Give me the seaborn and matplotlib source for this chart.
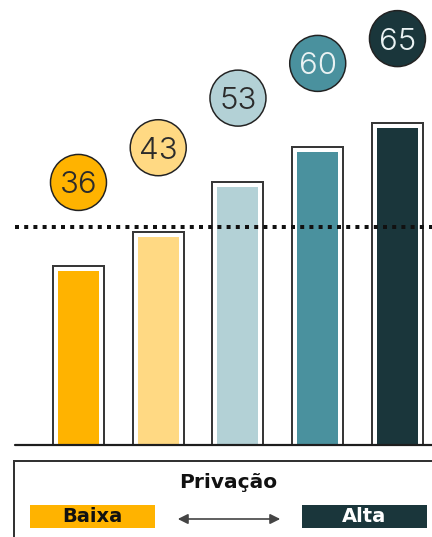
import matplotlib
matplotlib.use("Agg")
import matplotlib.pyplot as plt
import matplotlib.transforms as mtransforms
from matplotlib.patches import Rectangle, FancyArrowPatch
import seaborn as sns
import pandas as pd

# ---- data ----
categories = ["Q1", "Q2", "Q3", "Q4", "Q5"]
values = [36, 43, 53, 60, 65]
bar_colors = ["#FFB300", "#FFD983", "#B3D1D6", "#4A919E", "#1A363B"]
label_colors = ["#2b2b2b", "#2b2b2b", "#2b2b2b", "#EAF2F3", "#EAF2F3"]
reference_value = 44
legend_title = "Privação"
legend_low = "Baixa"
legend_high = "Alta"

df = pd.DataFrame({"cat": categories, "val": values})

DPI = 100
fig = plt.figure(figsize=(4.32, 5.37), dpi=DPI)
sns.set_style("white")
plt.rcParams["font.family"] = ["DejaVu Sans"]

W, H = 432, 537
base_px = 445
ax = fig.add_axes([15 / W, (H - base_px) / H, 1 - 15 / W, base_px / H])

px_per_unit = 4.96
pt = 72 / DPI  # points per pixel

# colored bars with thick white edge (creates the white gap)
sns.barplot(data=df, x="cat", y="val", hue="cat", palette=bar_colors,
            order=categories, hue_order=categories, legend=False,
            width=0.64, edgecolor="white", linewidth=10 * pt,
            saturation=1, ax=ax, zorder=2)
ext = 3.0
for p in list(ax.patches):
    p.set_y(p.get_y() - ext)
    p.set_height(p.get_height() + ext)
# outline bars
sns.barplot(data=df, x="cat", y="val", order=categories,
            color="white", fill=False, width=0.64,
            edgecolor="#383838", linewidth=2 * pt, ax=ax, zorder=3)

ax.set_xlim(-0.796, 4.433)
ax.set_ylim(0, base_px / px_per_unit)
ax.set_xlabel("")
ax.set_ylabel("")
ax.set_xticks([])
ax.set_yticks([])
for s in ax.spines.values():
    s.set_visible(False)

# baseline
ax.axhline(0, color="#1e1e1e", lw=2.2 * pt, zorder=5, clip_on=False)
# reference dotted line
ax.axhline(reference_value, color="#111111", lw=4 * pt,
           linestyle=(0, (1, 1.3)), zorder=4)

# value circles
off = mtransforms.offset_copy(ax.transData, fig=fig, x=0, y=84, units="dots")
xs = list(range(len(categories)))
diam_pt = 56 * pt
ax.scatter(xs, values, s=diam_pt ** 2, c=bar_colors, edgecolors="#222222",
           linewidths=1.5 * pt, transform=off, zorder=6, clip_on=False)
for x, v, tc in zip(xs, values, label_colors):
    ax.text(x, v, f"{v}", transform=off, ha="center", va="center_baseline",
            fontsize=22.5, color=tc, family=["Inter", "DejaVu Sans"],
            fontweight=300, zorder=7, clip_on=False)

# legend box (figure pixel coords from top)
def fy(y):
    return (H - y) / H

def fx(x):
    return x / W

fig.patches.append(Rectangle((fx(14), fy(560)), fx(440) - fx(14), fy(461) - fy(560),
                             transform=fig.transFigure, facecolor="white",
                             edgecolor="#333333", lw=2 * pt))
fig.text(fx(228), fy(482), legend_title, ha="center", va="center",
         fontsize=14.5, fontweight="bold", color="#111111")
fig.patches.append(Rectangle((fx(30), fy(528)), fx(155) - fx(30), fy(505) - fy(528),
                             transform=fig.transFigure, facecolor=bar_colors[0],
                             edgecolor="none"))
fig.text(fx(92), fy(517), legend_low, ha="center", va="center",
         fontsize=14, fontweight="bold", color="#111111")
fig.patches.append(Rectangle((fx(302), fy(528)), fx(427) - fx(302), fy(505) - fy(528),
                             transform=fig.transFigure, facecolor=bar_colors[-1],
                             edgecolor="none"))
fig.text(fx(364), fy(517), legend_high, ha="center", va="center",
         fontsize=14, fontweight="bold", color="white")
fig.patches.append(FancyArrowPatch((fx(175), fy(519)), (fx(283), fy(519)),
                                   transform=fig.transFigure,
                                   arrowstyle="<|-|>,head_length=6,head_width=3",
                                   color="#444444", lw=1.2, mutation_scale=1))

fig.savefig("out.png", dpi=DPI)
